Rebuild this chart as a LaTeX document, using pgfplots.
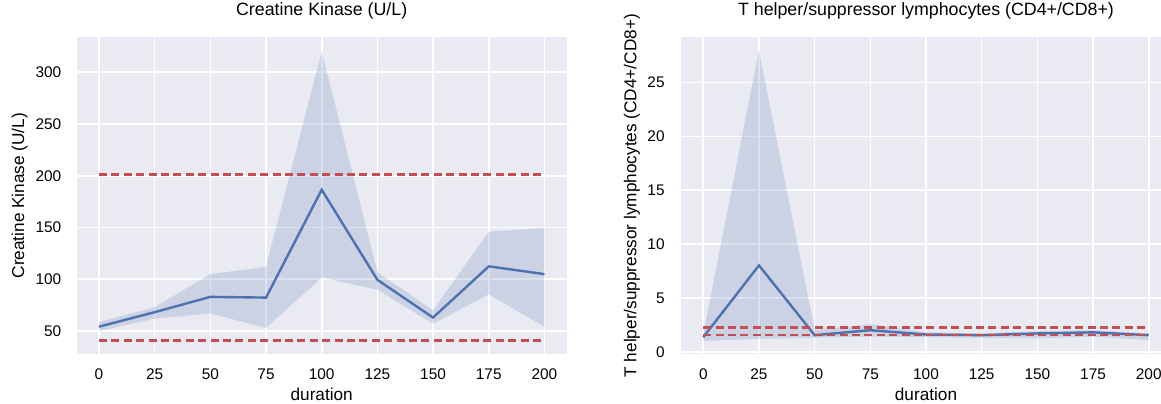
\documentclass[border=0pt]{standalone}
\usepackage{fontspec}
\setmainfont{Liberation Sans}
\usepackage{pgfplots}
\pgfplotsset{compat=1.18}
\usepgfplotslibrary{fillbetween}
\definecolor{sbbg}{HTML}{EAEAF2}
\definecolor{sbblue}{HTML}{4C72B0}
\definecolor{sbred}{HTML}{C44E52}
\pgfplotsset{sbstyle/.style={
  scale only axis, width=245pt, height=158.35pt,
  axis background/.style={fill=sbbg},
  axis line style={draw=none},
  major tick style={draw=none},
  grid=major, grid style={white, line width=0.8pt},
  xmin=-10, xmax=210, xtick={0,25,...,200},
  /pgf/number format/assume math mode=true,
  tick label style={font=\fontsize{7.7}{9}\selectfont},
  xticklabel style={inner sep=0pt, anchor=north, yshift=-7.2pt},
  yticklabel style={inner sep=0pt, anchor=east, xshift=-7.5pt},
  label style={font=\fontsize{8.6}{10}\selectfont},
  xlabel style={at={(axis description cs:0.5,-0.1468)}, anchor=base},
  title style={font=\fontsize{8.9}{10}\selectfont, at={(axis description cs:0.5,1.031)}, anchor=base},
  xlabel=duration,
  anchor=south west,
}}
\begin{document}
\begin{tikzpicture}
% ---------- left panel ----------
\begin{axis}[sbstyle, at={(38.35pt,24.5pt)},
  ymin=27.8, ymax=333.8, ytick={50,100,...,300},
  title={Creatine Kinase (U/L)},
  ylabel={Creatine Kinase (U/L)},
  ylabel style={at={(axis description cs:-0.1163,0.5)}, anchor=center}]
\addplot[name path=U1, draw=none, forget plot] coordinates {(0,58.7) (25,73) (50,105) (75,112) (100,320) (125,107) (150,70) (175,146) (200,149.4)};
\addplot[name path=L1, draw=none, forget plot] coordinates {(0,50) (25,62) (50,67) (75,53) (100,101.6) (125,90) (150,57) (175,85.5) (200,54)};
\addplot[fill=sbblue, fill opacity=0.2, draw=none] fill between[of=U1 and L1];
\addplot[sbblue, line width=1.2pt] coordinates {(0,54.2) (25,68.2) (50,83) (75,82.3) (100,186.5) (125,99.5) (150,63) (175,112.5) (200,105)};
\addplot[sbred, line width=1.4pt, dash pattern=on 4pt off 2.2pt] coordinates {(0,201) (200,201)};
\addplot[sbred, line width=1.4pt, dash pattern=on 4pt off 2.2pt] coordinates {(0,41) (200,41)};
\end{axis}
% ---------- right panel ----------
\begin{axis}[sbstyle, at={(340.5pt,24.5pt)},
  ymin=-0.21, ymax=29.2, ytick={0,5,...,25},
  yticklabel style={xshift=-0.5pt},
  title={T helper/suppressor lymphocytes (CD4+/CD8+)},
  ylabel={T helper/suppressor lymphocytes (CD4+/CD8+)},
  ylabel style={at={(axis description cs:-0.1,0.5)}, anchor=center}]
\addplot[name path=U2, draw=none, forget plot] coordinates {(0,1.6) (25,28.0) (50,2.0) (75,2.56) (100,1.8) (125,1.7) (150,1.9) (175,2.0) (200,1.7)};
\addplot[name path=L2, draw=none, forget plot] coordinates {(0,1.0) (25,1.2) (50,1.3) (75,1.4) (100,1.35) (125,1.3) (150,1.25) (175,1.4) (200,1.1)};
\addplot[fill=sbblue, fill opacity=0.2, draw=none] fill between[of=U2 and L2];
\addplot[sbblue, line width=1.2pt] coordinates {(0,1.35) (25,8.02) (50,1.54) (75,2.0) (100,1.6) (125,1.54) (150,1.7) (175,1.8) (200,1.54)};
\addplot[sbred, line width=1.4pt, dash pattern=on 4pt off 2.2pt] coordinates {(0,2.22) (200,2.22)};
\addplot[sbred, line width=1.4pt, dash pattern=on 4pt off 2.2pt] coordinates {(0,1.55) (200,1.55)};
\end{axis}
\pgfresetboundingbox
\useasboundingbox (0,0) rectangle (580.5pt,201.5pt);
\end{tikzpicture}
\end{document}
